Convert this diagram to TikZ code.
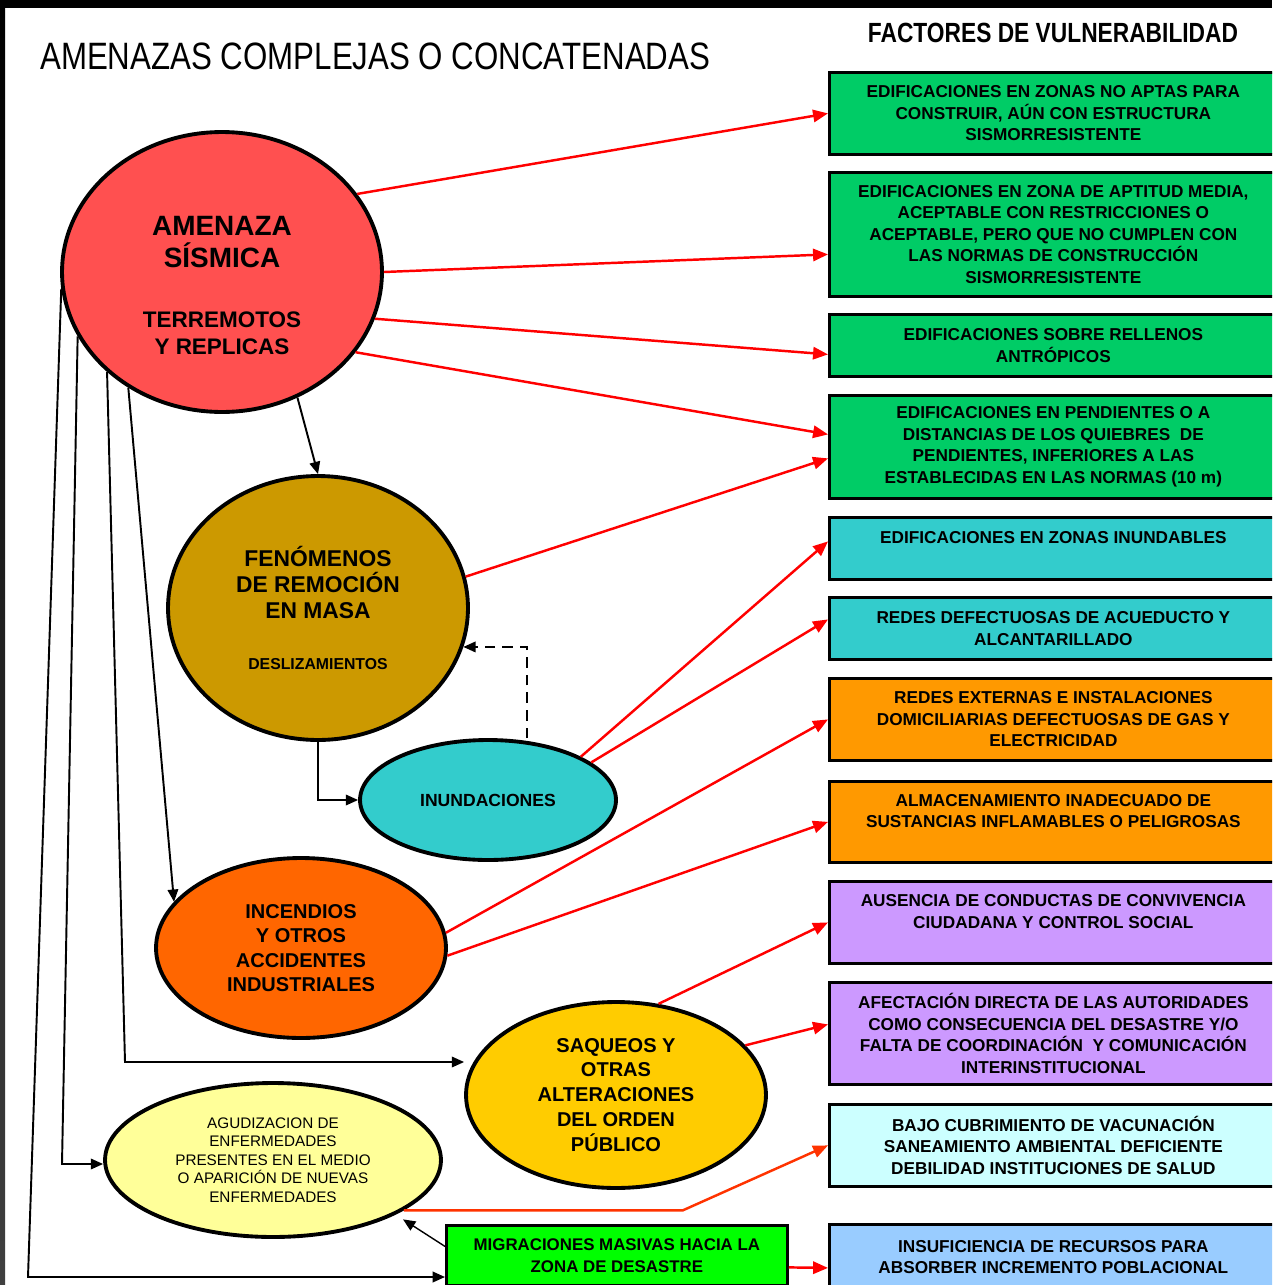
\documentclass[tikz,border=0pt]{standalone}
\usepackage{fontspec}
\setmainfont{Liberation Sans}
\newfontfamily\narrowfont[FakeStretch=0.82]{Liberation Sans}
\usetikzlibrary{shapes.geometric,arrows.meta}

\definecolor{rojo}{HTML}{FF5050}
\definecolor{marron}{HTML}{CC9900}
\definecolor{turquesa}{HTML}{33CCCC}
\definecolor{naranjafuego}{HTML}{FF6600}
\definecolor{oro}{HTML}{FFCC00}
\definecolor{amarillo}{HTML}{FFFF99}
\definecolor{verde}{HTML}{00CC66}
\definecolor{verdevivo}{HTML}{00FF00}
\definecolor{naranja}{HTML}{FF9900}
\definecolor{lila}{HTML}{CC99FF}
\definecolor{celeste}{HTML}{CCFFFF}
\definecolor{azulclaro}{HTML}{99CCFF}
\definecolor{rojoclaro}{HTML}{FF3300}

\tikzset{
  elipse/.style={ellipse, draw, line width=2.2pt, inner sep=0pt, align=center},
  factor/.style={rectangle, draw, line width=1.6pt, anchor=north west,
    minimum width=8.96cm, inner sep=0pt, align=center,
    font=\fontsize{9.8}{12.2}\selectfont\bfseries},
  flecha/.style={-{Triangle[length=7pt,width=6pt]}, line width=1.1pt},
  flecharoja/.style={-{Triangle[length=8.5pt,width=7pt]}, line width=1.4pt, red},
}

\begin{document}
\begin{tikzpicture}[x=0.02cm,y=-0.02cm]
  \useasboundingbox (0,0) rectangle (1272,1285);
  \clip (0,0) rectangle (1272,1285);
  \fill[white] (0,0) rectangle (1272,1285);
  \fill[black] (0,0) rectangle (1272,8);
  \shade[top color=black, bottom color=black!75] (0,8) rectangle (5,1285);

  \node[anchor=west, font=\narrowfont\fontsize{21.7}{24}\selectfont] (titulo) at (34,56) {AMENAZAS COMPLEJAS O CONCATENADAS};
  \node[font=\narrowfont\bfseries\fontsize{15.8}{18}\selectfont] (encab) at (1053,33) {FACTORES DE VULNERABILIDAD};

  % amenazas
  \node[elipse, fill=rojo, minimum width=6.4cm, minimum height=5.6cm] (sis) at (222,272) {};
  \node[align=center, font=\bfseries\fontsize{15.9}{18.7}\selectfont] (sisa) at (222,242) {AMENAZA\\SÍSMICA};
  \node[align=center, font=\bfseries\fontsize{12.8}{15.3}\selectfont] (sisb) at (222,333) {TERREMOTOS\\Y REPLICAS};
  \node[elipse, fill=marron, minimum width=6cm, minimum height=5.28cm,
    font=\bfseries\fontsize{13}{15}\selectfont] (rm) at (318,608)
    {FENÓMENOS\\DE REMOCIÓN\\EN MASA\\[14pt]{\fontsize{9}{10}\selectfont DESLIZAMIENTOS}};
  \node[elipse, fill=turquesa, minimum width=5.12cm, minimum height=2.4cm,
    font=\bfseries\fontsize{10}{12}\selectfont] (in) at (488,800) {INUNDACIONES};
  \node[elipse, fill=naranjafuego, minimum width=5.8cm, minimum height=3.6cm,
    font=\bfseries\fontsize{11.4}{14}\selectfont] (inc) at (301,948)
    {INCENDIOS\\Y OTROS\\ACCIDENTES\\INDUSTRIALES};
  \node[elipse, fill=oro, minimum width=6cm, minimum height=3.72cm,
    font=\bfseries\fontsize{11.4}{14.2}\selectfont] (sq) at (616,1095)
    {SAQUEOS Y\\OTRAS\\ALTERACIONES\\DEL ORDEN\\PÚBLICO};
  \node[elipse, fill=amarillo, minimum width=6.72cm, minimum height=3.08cm,
    font=\fontsize{8.7}{10.5}\selectfont] (ag) at (273,1160)
    {AGUDIZACION DE\\ENFERMEDADES\\PRESENTES EN EL MEDIO\\O APARICIÓN DE NUEVAS\\ENFERMEDADES};
  \node[factor, fill=verdevivo, minimum width=6.82cm, minimum height=1.2cm,
    font=\fontsize{9.6}{12.5}\selectfont\bfseries] (mig) at (445,1224)
    {MIGRACIONES MASIVAS HACIA LA\\ZONA DE DESASTRE};

  % factores de vulnerabilidad
  \node[factor, fill=verde, minimum height=1.64cm] (f1) at (828,71)
    {EDIFICACIONES EN ZONAS NO APTAS PARA\\CONSTRUIR, AÚN CON ESTRUCTURA\\SISMORRESISTENTE};
  \node[factor, fill=verde, minimum height=2.48cm] (f2) at (828,171)
    {EDIFICACIONES EN ZONA DE APTITUD MEDIA,\\ACEPTABLE CON RESTRICCIONES O\\ACEPTABLE, PERO QUE NO CUMPLEN CON\\LAS NORMAS DE CONSTRUCCIÓN\\SISMORRESISTENTE};
  \node[factor, fill=verde, minimum height=1.24cm] (f3) at (828,313)
    {EDIFICACIONES SOBRE RELLENOS\\ANTRÓPICOS};
  \node[factor, fill=verde, minimum height=2.06cm] (f4) at (828,394)
    {EDIFICACIONES EN PENDIENTES O A\\DISTANCIAS DE LOS QUIEBRES \ DE\\PENDIENTES, INFERIORES A LAS\\ESTABLECIDAS EN LAS NORMAS (10 m)};
  \node[factor, fill=turquesa, minimum height=1.24cm] (f5) at (828,516)
    {EDIFICACIONES EN ZONAS INUNDABLES\\\mbox{}};
  \node[factor, fill=turquesa, minimum height=1.24cm] (f6) at (828,596)
    {REDES DEFECTUOSAS DE ACUEDUCTO Y\\ALCANTARILLADO};
  \node[factor, fill=naranja, minimum height=1.64cm] (f7) at (828,677)
    {REDES EXTERNAS E INSTALACIONES\\DOMICILIARIAS DEFECTUOSAS DE GAS Y\\ELECTRICIDAD};
  \node[factor, fill=naranja, minimum height=1.62cm] (f8) at (828,780)
    {ALMACENAMIENTO INADECUADO DE\\SUSTANCIAS INFLAMABLES O PELIGROSAS\\\mbox{}};
  \node[factor, fill=lila, minimum height=1.64cm] (f9) at (828,880)
    {AUSENCIA DE CONDUCTAS DE CONVIVENCIA\\CIUDADANA Y CONTROL SOCIAL\\\mbox{}};
  \node[factor, fill=lila, minimum height=2.04cm] (f10) at (828,981)
    {AFECTACIÓN DIRECTA DE LAS AUTORIDADES\\COMO CONSECUENCIA DEL DESASTRE Y/O\\FALTA DE COORDINACIÓN \ Y COMUNICACIÓN\\INTERINSTITUCIONAL};
  \node[factor, fill=celeste, minimum height=1.64cm] (f11) at (828,1103)
    {BAJO CUBRIMIENTO DE VACUNACIÓN\\SANEAMIENTO AMBIENTAL DEFICIENTE\\DEBILIDAD INSTITUCIONES DE SALUD};
  \node[factor, fill=azulclaro, minimum height=1.3cm] (f12) at (828,1223)
    {INSUFICIENCIA DE RECURSOS PARA\\ABSORBER INCREMENTO POBLACIONAL};

  % cadena de amenazas
  \draw[flecha] (sis.-59) -- (rm.north);
  \draw[flecha] (rm.south) |- (in.west);
  \draw[flecha, dash pattern=on 6pt off 4pt] ([xshift=0.78cm]in.north) |- (rm.-15);
  \draw[flecha] (sis.231) -- (inc.160);
  \coordinate (kb) at (125,1062);
  \draw[flecha] (sis.221) -- (kb) -- (kb -| sq.west);
  \coordinate (kc) at (62,1164);
  \draw[flecha] (sis.204) -- (kc) -- (kc -| ag.west);
  \coordinate (kd) at (28,1277);
  \draw[flecha] (sis.186) -- (kd) -- (kd -| mig.west);
  \draw[flecha, line width=0.8pt, shorten >=5pt] ([yshift=0.18cm]mig.west) -- (ag.-24);

  % hacia los factores
  \draw[flecharoja] (sis.30) -- (f1.west);
  \draw[flecharoja] (sis.0) -- ([yshift=-0.4cm]f2.west);
  \draw[flecharoja] (sis.-17) -- ([yshift=-0.18cm]f3.west);
  \draw[flecharoja] (sis.-31) -- ([yshift=0.25cm]f4.west);
  \draw[flecharoja] (rm.12) -- ([yshift=-0.23cm]f4.west);
  \draw[flecharoja] (in.25) -- ([yshift=0.14cm]f5.west);
  \draw[flecharoja] (in.20) -- ([yshift=0.18cm]f6.west);
  \draw[flecharoja] (inc.6) -- (f7.west);
  \draw[flecharoja] (inc.-3) -- (f8.west);
  \draw[flecharoja] (sq.65) -- (f9.west);
  \draw[flecharoja] (sq.21) -- ([yshift=0.18cm]f10.west);
  \coordinate (ka) at (683,1210);
  \draw[flecharoja, rojoclaro] (ag.-21) -- (ag.-21 -| ka) -- (f11.west);
  \draw[flecharoja] ([yshift=-0.24cm]mig.east) -- ([yshift=-0.22cm]f12.west);
\end{tikzpicture}
\end{document}
